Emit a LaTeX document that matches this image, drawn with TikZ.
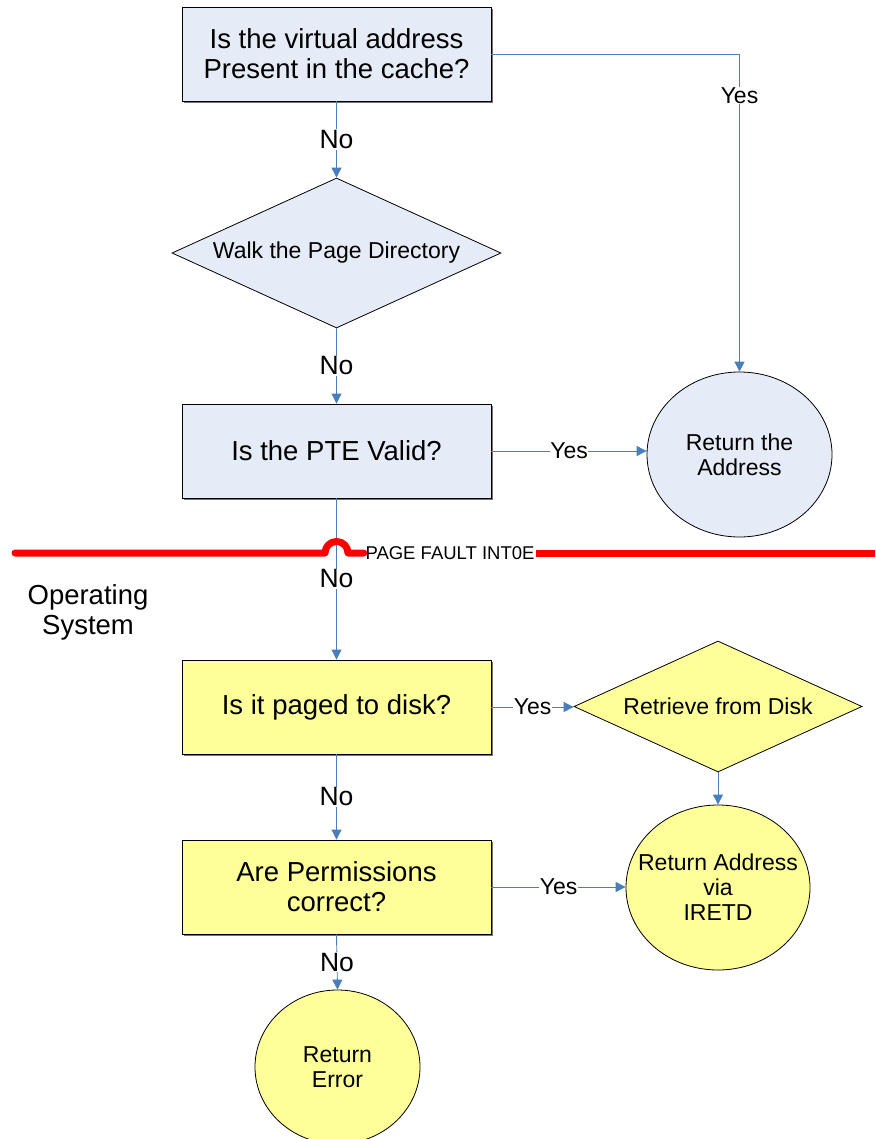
\documentclass[tikz,border=0pt]{standalone}
\usepackage{fontspec}
\setmainfont{Liberation Sans}
\usetikzlibrary{shapes.geometric,arrows.meta,shadows}
\definecolor{boxblue}{HTML}{E6ECF7}
\definecolor{boxyellow}{HTML}{FFFF99}
\definecolor{connblue}{HTML}{4A7EBB}
\tikzset{
  qbox/.style={rectangle, draw=black, line width=0.9pt, minimum width=309pt, minimum height=94pt,
    inner sep=0pt, align=center, font=\fontsize{27.5}{30}\selectfont,
    drop shadow={shadow xshift=1.6pt, shadow yshift=-1.6pt, fill=black!55, opacity=1}},
  bluebox/.style={qbox, fill=boxblue},
  yellowbox/.style={qbox, fill=boxyellow},
  dia/.style={diamond, draw=black, line width=0.8pt, inner sep=0pt, align=center,
    font=\fontsize{23}{25}\selectfont},
  ell/.style={ellipse, draw=black, line width=0.8pt, inner sep=0pt},
  elltext/.style={align=center, font=\fontsize{23}{25}\selectfont, inner sep=0pt},
  conn/.style={draw=connblue, line width=0.9pt, -{Triangle[length=10pt,width=10pt]}},
  nolbl/.style={fill=white, inner sep=1pt, text=black, font=\fontsize{26.5}{28}\selectfont},
  yeslbl/.style={fill=white, inner sep=0.5pt, text=black, font=\fontsize{23}{25}\selectfont},
  redline/.style={draw=red, line width=7pt, line cap=round, line join=round},
}
\begin{document}
\begin{tikzpicture}[x=1pt,y=1pt]
\useasboundingbox (0,0) rectangle (875,-1139);
\begin{scope}
\clip (0,0) rectangle (875,-1139);
% nodes
\node[bluebox] (q1) at (336.5,-54) {Is the virtual address\\Present in the cache?};
\node[dia, fill=boxblue, minimum width=329pt, minimum height=150pt, aspect=2.193] (d1) at (336.5,-253) {Walk the Page Directory};
\node[bluebox] (q2) at (336.5,-451) {Is the PTE Valid?};
\node[ell, fill=boxblue, minimum width=185pt, minimum height=165pt,
  label={[elltext]center:Return the\\Address}] (c1) at (739.5,-454.5) {};
\node[yellowbox] (q3) at (336.5,-707) {Is it paged to disk?};
\node[dia, fill=boxyellow, minimum width=288pt, minimum height=131pt, aspect=2.198] (d2) at (718,-706.5) {Retrieve from Disk};
\node[ell, fill=boxyellow, minimum width=184pt, minimum height=165pt,
  label={[elltext]center:Return Address\\via\\IRETD}] (c2) at (718,-887.5) {};
\node[yellowbox] (q4) at (336.5,-887) {Are Permissions\\correct?};
\node[ell, fill=boxyellow, minimum width=165pt, minimum height=154pt,
  label={[elltext]center:Return\\Error}] (c3) at (337.5,-1067) {};
\node[align=center, font=\fontsize{27.5}{30}\selectfont] (os) at (88,-612) {Operating\\System};
% connectors
\draw[conn] (q1.south) -- node[nolbl]{No} (d1.north);
\draw[conn] (q1.east) -| node[yeslbl, pos=0.565]{Yes} (c1.north);
\draw[conn] (d1.south) -- node[nolbl]{No} (q2.north);
\draw[conn] (q2.east) -- node[yeslbl]{Yes} (q2.east -| c1.west);
\draw[conn] (q2.south) -- node[nolbl, pos=0.5]{No} (q3.north);
\draw[conn] (q3.east) -- node[yeslbl]{Yes} (q3.east -| d2.west);
\draw[conn] (d2.south) -- (c2.north);
\draw[conn] (q3.south) -- node[nolbl]{No} (q4.north);
\draw[conn] (q4.east) -- node[yeslbl]{Yes} (q4.east -| c2.west);
\draw[conn] (q4.south) -- node[nolbl]{No} (c3.north);
% page fault line
\node[inner sep=1.5pt, font=\fontsize{18.5}{20}\selectfont] (pf) at (450,-553) {PAGE FAULT INT0E};
\coordinate (rl) at (15,-553);
\coordinate (rr) at (890,-553);
\draw[redline] (rl) -- (325,-553) arc[start angle=180, end angle=0, radius=11.5] -- (pf.west);
\draw[redline, line cap=butt] (pf.east) -- (rr);
\end{scope}
\end{tikzpicture}
\end{document}
